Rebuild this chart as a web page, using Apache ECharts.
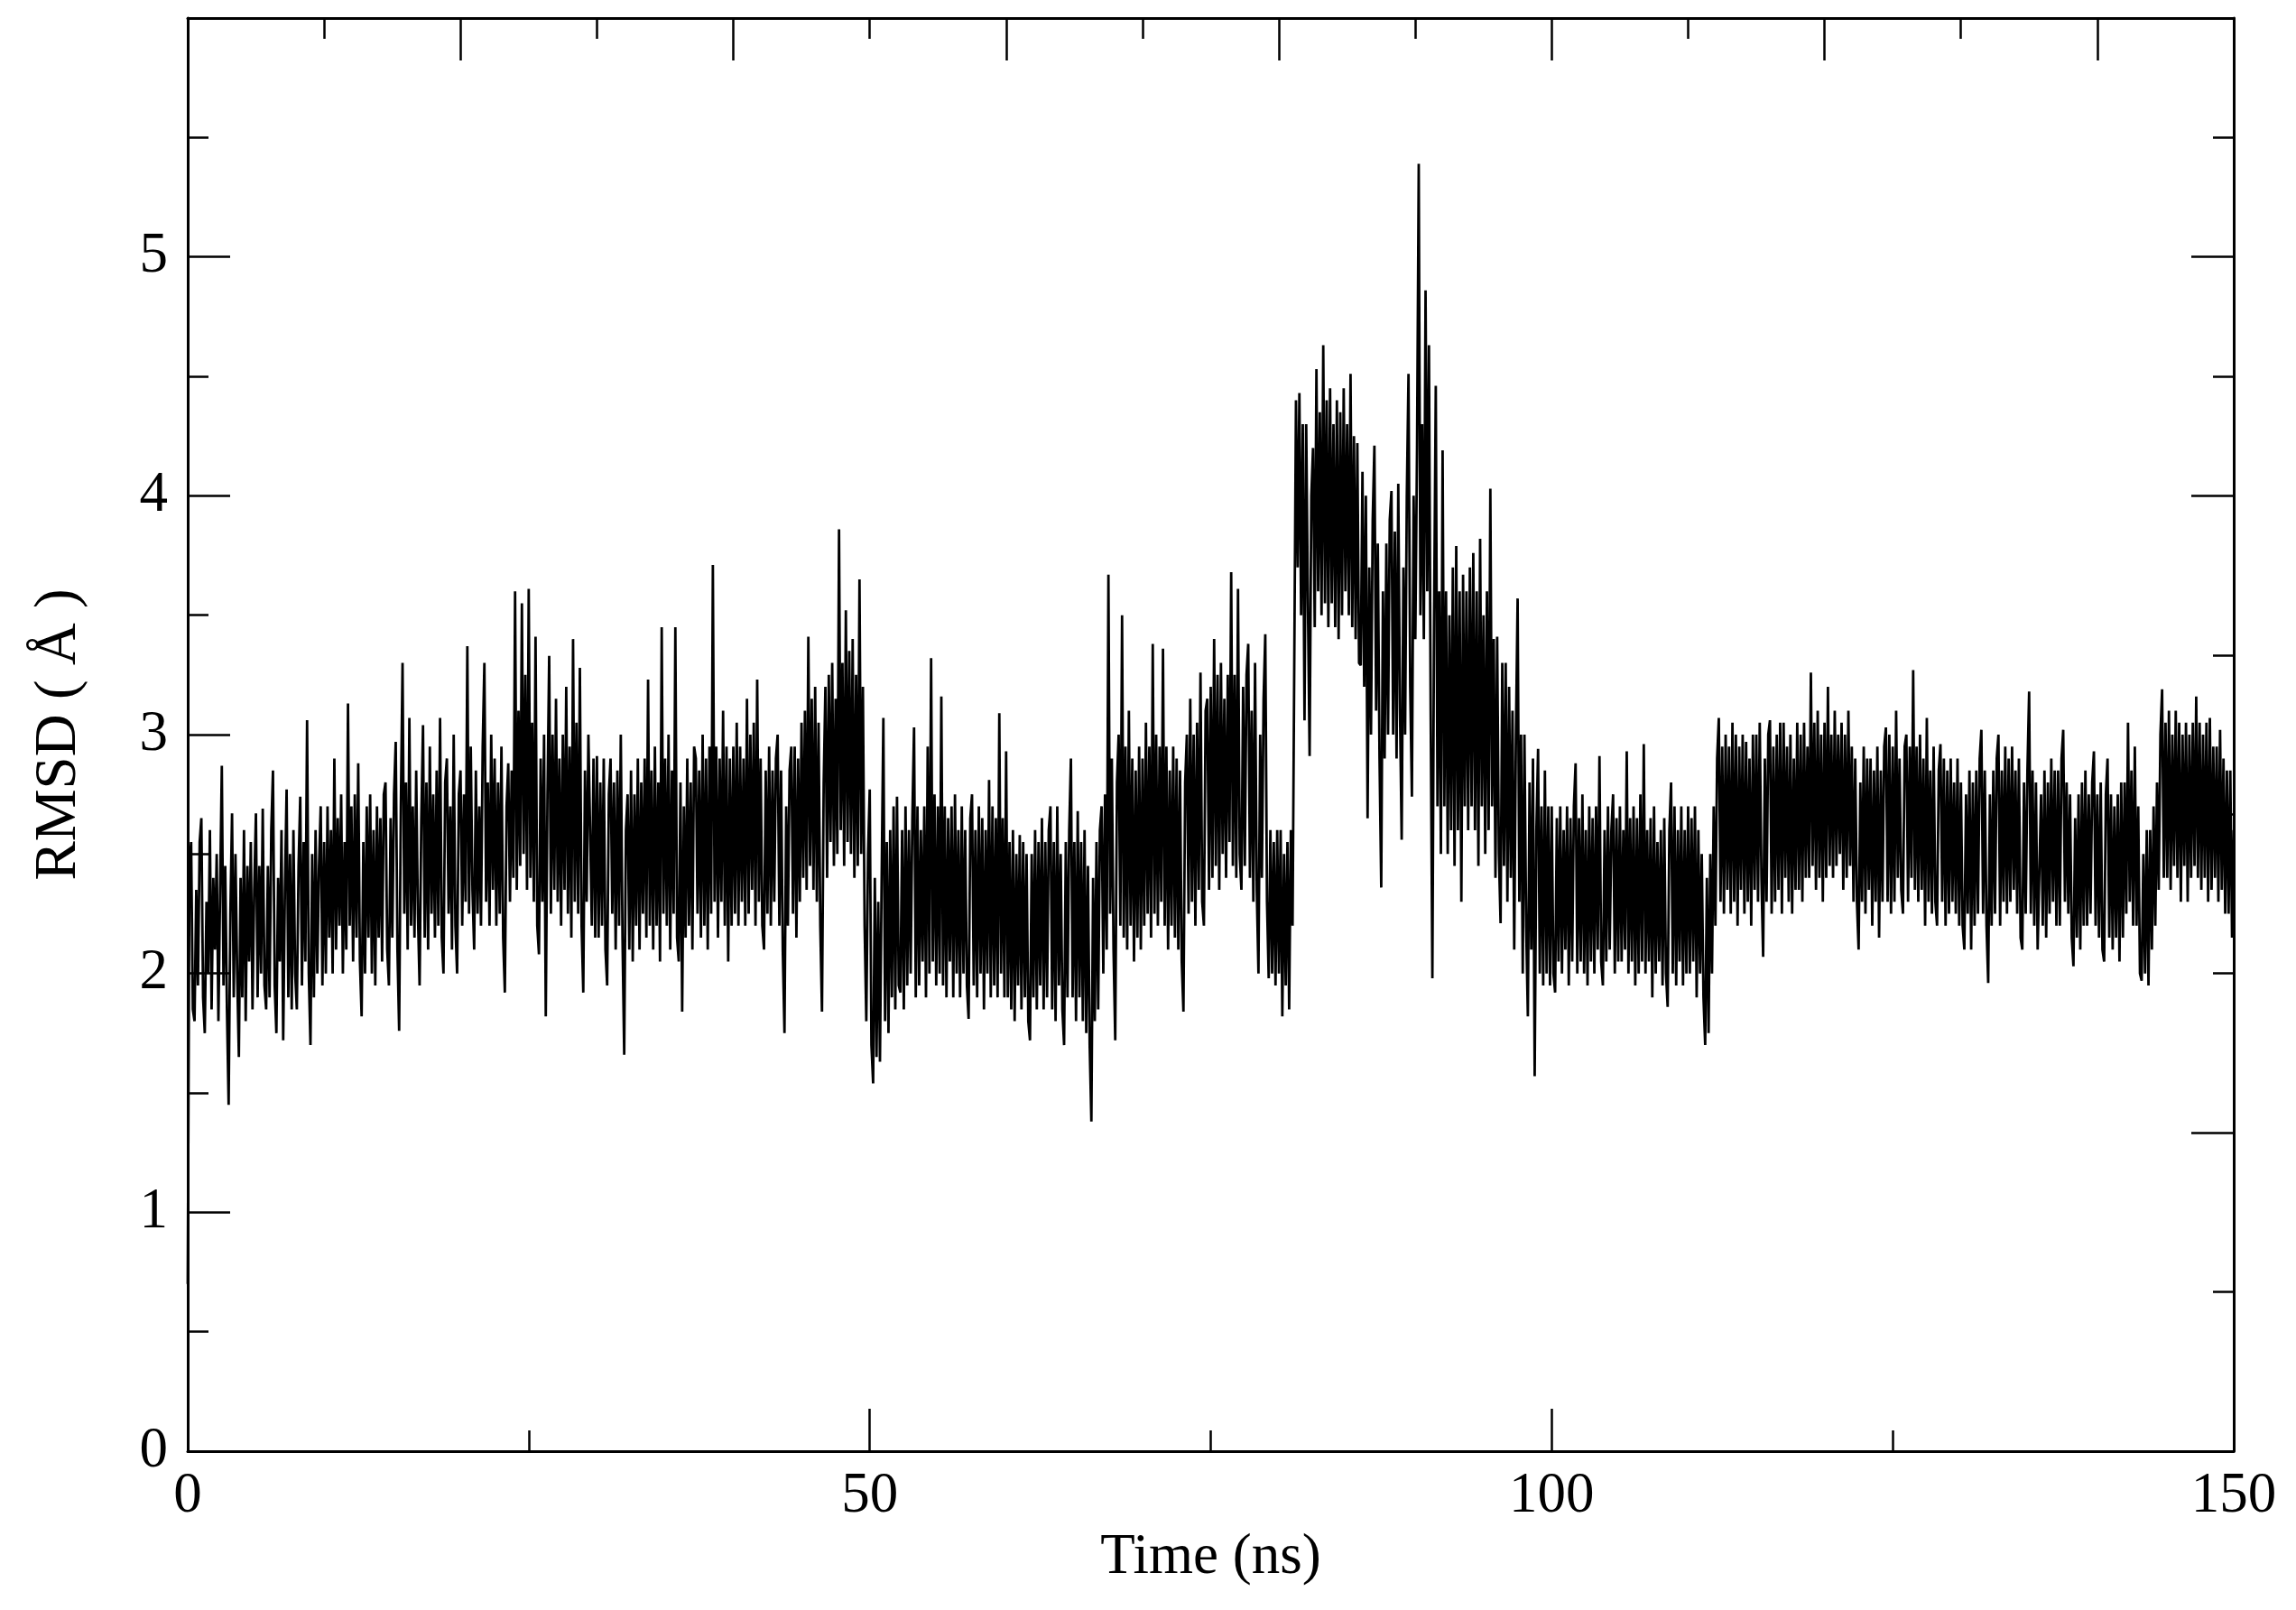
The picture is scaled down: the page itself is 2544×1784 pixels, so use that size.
<!DOCTYPE html>
<html><head><meta charset="utf-8">
<script src="https://cdn.jsdelivr.net/npm/echarts@6/dist/echarts.min.js"></script>
<style>html,body{margin:0;padding:0;background:#fff}#c{width:2544px;height:1784px}</style>
</head><body><div id="c"></div>
<script>
// sampling step of the trajectory (ns)
const timeStepNs = 0.125;
// RMSD values (Å), 0.125 ns apart
const rmsd_0_25 = [
0.70,2.45,2.55,1.85,1.80,2.35,1.95,2.55,2.65,1.90,1.75,2.30,2.00,2.60,1.85,2.40,2.10,2.50,1.80,2.35,
2.87,1.95,2.45,1.85,1.45,2.25,2.67,1.90,2.50,2.00,1.65,2.40,1.90,2.60,1.80,2.45,2.05,2.55,1.85,2.35,
2.67,1.90,2.45,2.00,2.69,1.95,1.85,2.45,1.90,2.60,2.85,1.95,1.75,2.40,2.05,2.60,1.72,2.35,2.77,1.90,
2.50,1.85,2.60,2.00,1.85,2.45,2.74,1.95,2.55,2.05,3.06,2.00,1.70,2.50,1.90,2.60,2.00,2.45,2.70,1.95,
2.55,2.00,2.70,2.15,2.60,2.00,2.90,2.10,2.65,2.20,2.75,2.00,2.55,2.10,3.13,2.20,2.70,2.05,2.75,2.15,
2.88,2.05,1.82,2.55,2.00,2.70,2.15,2.75,2.00,2.60,1.95,2.70,2.15,2.65,2.05,2.75,2.80,2.10,1.95,2.65,
2.15,2.75,2.97,2.10,1.76,2.70,3.30,2.25,2.80,2.10,3.07,2.20,2.70,2.15,2.85,2.25,1.95,2.65,3.04,2.15,
2.80,2.10,2.95,2.25,2.75,2.15,2.85,2.20,3.07,2.15,2.00,2.80,2.90,2.25,2.70,2.10,3.00,2.20,2.00,2.75,
2.85,2.20,2.75,2.30,3.37,2.25,2.95,2.35,2.10,2.85,2.25,2.70,2.20,2.95,3.30,2.30,2.80,2.20,3.00,2.35,
2.90,2.20,2.80,2.25,2.95,2.15,1.92,2.70,2.88,2.30,2.85,2.40,3.60,2.35,3.10,2.45,3.55,2.50,3.25,2.35];
const rmsd_25_50 = [
3.61,2.40,3.05,2.30,3.41,2.20,2.08,2.90,2.30,3.00,1.82,2.75,3.33,2.25,3.00,2.35,3.15,2.30,2.90,2.20,
3.00,2.35,3.20,2.25,2.95,2.15,3.40,2.30,3.05,2.25,3.28,2.20,1.92,2.85,2.30,3.00,3.00,2.20,2.90,2.15,
2.91,2.15,2.80,2.20,2.90,2.10,1.95,2.75,2.90,2.25,2.80,2.10,2.85,2.20,3.00,2.15,1.66,2.60,2.75,2.10,
2.85,2.05,2.75,2.20,2.90,2.10,2.80,2.25,2.90,2.15,3.23,2.20,2.85,2.10,2.95,2.20,2.80,2.05,3.45,2.25,
2.90,2.20,3.00,2.10,2.85,2.25,3.45,2.15,2.05,2.80,1.84,2.70,2.15,2.90,2.20,2.80,2.10,2.95,2.90,2.25,
2.85,2.15,3.00,2.20,2.90,2.10,2.95,2.25,3.71,2.30,2.95,2.15,2.90,2.30,3.10,2.20,2.95,2.05,2.90,2.20,
2.95,2.25,3.05,2.20,2.95,2.30,2.90,2.20,3.15,2.25,3.00,2.35,3.05,2.20,3.23,2.30,2.90,2.20,2.10,2.85,
2.25,2.95,2.20,2.85,2.30,2.90,3.00,2.20,2.85,2.10,1.75,2.70,2.20,2.85,2.95,2.25,2.95,2.15,2.90,2.30,
3.05,2.40,3.10,2.35,3.41,2.45,3.15,2.35,3.20,2.30,3.05,2.20,1.84,2.80,3.20,2.40,3.25,2.55,3.30,2.45,
3.15,2.50,3.86,2.60,3.30,2.45,3.52,2.55,3.35,2.50,3.40,2.40,3.25,2.45,3.65,2.50,3.20,2.20,1.80,2.50];
const rmsd_50_75 = [
2.77,1.70,1.54,2.40,1.65,2.30,1.63,2.40,3.07,1.80,2.55,1.75,2.60,1.90,2.70,1.85,2.74,1.95,1.92,2.60,
1.85,2.70,1.95,2.60,2.00,2.65,3.03,1.90,2.70,1.95,2.60,2.05,2.70,1.90,2.95,2.00,3.32,2.05,2.75,1.95,
2.70,2.00,3.16,1.95,2.70,1.90,2.65,2.05,2.70,1.90,2.75,2.00,2.60,1.90,2.70,2.00,2.60,1.95,1.81,2.65,
2.75,1.95,2.60,1.90,2.70,2.00,2.65,1.85,2.60,2.00,2.81,1.90,2.70,1.95,2.65,1.90,3.09,2.00,2.65,1.90,
2.93,1.90,2.55,1.85,2.60,1.80,2.50,1.95,2.58,1.85,2.55,1.90,2.50,1.80,1.72,2.50,1.90,2.60,1.85,2.55,
1.95,2.65,1.85,2.55,1.90,2.60,2.70,1.85,2.55,1.80,2.70,1.95,2.50,1.85,1.70,2.55,1.90,2.60,2.90,1.90,
2.55,1.80,2.68,1.90,2.55,1.80,2.60,1.75,2.45,1.70,1.38,2.40,1.80,2.55,1.85,2.60,2.70,2.00,2.75,2.10,
3.67,2.25,2.90,2.10,1.72,2.80,3.00,2.20,3.50,2.15,2.95,2.10,3.10,2.20,2.90,2.05,2.85,2.15,2.95,2.10,
2.90,2.20,3.05,2.25,2.95,2.15,3.38,2.25,3.00,2.20,2.95,2.30,3.36,2.20,2.95,2.10,2.85,2.20,2.95,2.15,
2.90,2.10,2.85,2.05,1.84,2.80,3.00,2.25,3.15,2.30,3.00,2.20,3.05,2.35,3.26,2.30,2.20,3.10,3.15,2.35];
const rmsd_75_100 = [
3.20,2.40,3.40,2.45,3.25,2.35,3.30,2.50,3.15,2.40,3.25,2.55,3.68,2.45,3.25,2.40,3.61,2.50,2.35,3.20,
2.45,3.25,3.38,2.40,3.10,2.30,3.30,2.35,2.00,3.00,2.40,3.15,3.42,2.30,1.98,2.60,2.00,2.55,1.95,2.60,
2.00,2.60,1.82,2.50,1.95,2.55,1.85,2.60,2.20,3.30,4.40,3.70,4.43,3.50,4.30,3.06,4.30,3.55,2.91,4.00,
4.20,3.45,4.53,3.60,4.35,3.50,4.63,3.55,4.40,3.45,4.45,3.55,4.30,3.45,4.40,3.40,4.35,3.50,4.45,3.60,
4.30,3.50,4.51,3.45,4.25,3.40,4.22,3.30,3.29,4.10,3.20,4.00,2.65,3.70,3.00,3.90,4.21,3.10,3.80,2.90,
2.36,3.60,2.90,3.80,3.00,3.90,4.02,3.00,3.85,2.90,4.05,3.10,2.56,3.70,3.00,4.00,4.51,3.20,2.74,4.00,
3.40,4.20,5.39,3.50,4.30,3.40,4.86,3.60,4.63,3.10,1.98,3.50,4.46,2.70,3.60,2.50,4.19,2.70,3.60,2.50,
3.50,2.60,3.70,2.45,3.79,2.60,3.60,2.30,3.67,2.70,3.60,2.60,3.70,2.70,3.76,2.60,3.60,2.45,3.82,2.70,
3.50,2.50,3.60,2.60,4.03,2.70,3.40,2.40,3.41,2.50,2.21,3.30,2.45,3.30,2.30,3.20,2.40,3.10,2.10,3.00,
3.57,2.30,3.00,2.00,3.00,2.20,1.82,2.80,2.10,2.90,1.57,2.60,2.94,2.00,2.70,1.95,2.85,2.00,2.70,1.95];
const rmsd_100_125 = [
2.70,2.00,1.92,2.65,2.05,2.70,2.00,2.60,2.10,2.70,1.95,2.65,2.05,2.70,2.88,2.00,2.65,2.05,2.75,2.00,
2.60,1.95,2.70,2.05,2.65,2.00,2.70,2.10,2.91,2.05,1.95,2.60,2.05,2.70,2.10,2.60,2.75,2.00,2.65,2.05,
2.70,2.05,2.60,2.10,2.93,2.00,2.65,2.05,2.70,1.95,2.65,2.00,2.75,2.05,2.96,2.00,2.60,2.05,2.65,1.90,
2.70,2.00,2.55,2.05,2.60,1.95,2.65,2.00,1.86,2.60,2.80,2.00,2.70,1.95,2.60,2.05,2.70,1.95,2.60,2.00,
2.70,2.00,2.65,2.05,2.70,1.90,2.60,2.00,2.50,1.90,1.70,2.40,1.75,2.50,2.00,2.70,2.20,2.90,3.07,2.30,
2.95,2.25,3.00,2.35,2.95,2.25,3.05,2.30,3.00,2.20,2.95,2.35,3.00,2.25,2.97,2.30,2.90,2.20,3.00,2.35,
3.00,2.30,3.05,2.40,2.07,2.90,2.30,3.00,3.06,2.25,2.95,2.30,3.00,2.35,3.05,2.25,3.05,2.40,2.95,2.30,
3.00,2.25,2.90,2.35,3.05,2.35,3.00,2.30,3.05,2.40,2.95,2.40,3.26,2.45,3.05,2.35,3.10,2.40,3.00,2.30,
3.05,2.40,3.20,2.45,3.00,2.40,3.10,2.45,3.00,2.50,3.05,2.35,3.00,2.40,3.10,2.45,2.95,2.30,2.90,2.30,
2.10,2.80,2.30,2.95,2.25,2.90,2.35,2.90,2.20,2.85,2.30,2.95,2.15,2.85,2.30,2.95,3.03,2.30,3.00,2.25];
const rmsd_125_150 = [
2.95,2.30,3.10,2.40,2.90,2.35,2.25,2.95,3.00,2.30,2.95,2.40,3.27,2.35,2.95,2.30,3.00,2.35,2.90,2.20,
3.07,2.30,2.85,2.25,2.95,2.30,2.20,2.85,2.96,2.30,2.90,2.20,2.85,2.25,2.90,2.30,2.80,2.25,2.90,2.20,
2.80,2.20,2.10,2.75,2.25,2.85,2.10,2.80,2.20,2.85,2.25,2.90,3.02,2.25,2.85,2.20,1.96,2.75,2.20,2.85,
2.25,2.90,3.00,2.20,2.85,2.30,2.95,2.25,2.90,2.30,2.95,2.35,2.85,2.25,2.90,2.15,2.10,2.80,2.25,2.85,
3.18,2.25,2.85,2.20,2.80,2.10,2.10,2.75,2.20,2.85,2.15,2.80,2.25,2.90,2.30,2.85,2.20,2.85,2.20,2.90,
3.02,2.30,2.80,2.25,2.75,2.15,2.03,2.65,2.15,2.75,2.10,2.80,2.20,2.85,2.20,2.75,2.25,2.80,2.93,2.20,
2.75,2.15,2.80,2.10,2.05,2.75,2.90,2.15,2.75,2.10,2.70,2.15,2.75,2.05,2.80,2.15,2.80,2.25,3.05,2.30,
2.85,2.20,2.95,2.20,2.70,2.00,1.97,2.50,2.00,2.60,1.95,2.60,2.10,2.70,2.20,2.80,2.35,3.00,3.19,2.40,
3.05,2.40,3.10,2.35,3.00,2.45,3.10,2.40,3.05,2.30,3.00,2.45,3.05,2.30,3.00,2.40,3.05,2.45,3.16,2.40,
3.05,2.35,3.00,2.40,3.05,2.30,3.07,2.35,2.95,2.40,2.95,2.30,3.02,2.35,2.90,2.25,2.85,2.25,2.85,2.15,2.60];

// tick positions
const topMajorTicks = [20,40,60,80,100,120,140];
const topMinorTicks = [10,30,50,70,90,110,130];
const rightMajorTicks = [4/3,4,5];
const rightMinorTicks = [2/3,2,8/3,10/3,4.5,5.5];

const xAxisTitle = 'Time (ns)';
const yAxisTitle = 'RMSD ( Å )';

const rmsd = [].concat(rmsd_0_25, rmsd_25_50, rmsd_50_75, rmsd_75_100, rmsd_100_125, rmsd_125_150);
const seriesData = rmsd.map((v, i) => [i * timeStepNs, v]);

const FONT = '"Liberation Serif","DejaVu Serif",serif';
const lineStyle = {color:'#000', width:3};
const majorTick = {show:true, inside:true, length:47, lineStyle:{color:'#000', width:2.5}};
const minorTick = {show:true, splitNumber:2, length:23, lineStyle:{color:'#000', width:2.5}};
const noZeroLine = {show:true, onZero:false, lineStyle};

const chart = echarts.init(document.getElementById('c'), null, {renderer:'canvas'});
chart.setOption({
  animation:false,
  backgroundColor:'#fff',
  grid:{left:208, right:69, top:20, bottom:176, containLabel:false},
  xAxis:[
    {type:'value', position:'bottom', min:0, max:150, interval:50,
     axisLine:noZeroLine, axisTick:majorTick, minorTick:minorTick,
     splitLine:{show:false},
     axisLabel:{show:true, color:'#000', fontFamily:FONT, fontSize:63, margin:19},
     name:xAxisTitle, nameLocation:'middle', nameGap:87,
     nameTextStyle:{color:'#000', fontFamily:FONT, fontSize:63}},
    {type:'value', position:'top', min:0, max:150,
     axisLine:noZeroLine, axisTick:Object.assign({}, majorTick, {customValues:topMajorTicks}),
     splitLine:{show:false}, axisLabel:{show:false}},
    {type:'value', position:'top', min:0, max:150,
     axisLine:{show:false, onZero:false}, axisTick:Object.assign({}, majorTick, {length:23, customValues:topMinorTicks}),
     splitLine:{show:false}, axisLabel:{show:false}}
  ],
  yAxis:[
    {type:'value', position:'left', min:0, max:6, interval:1,
     axisLine:noZeroLine, axisTick:majorTick, minorTick:minorTick,
     splitLine:{show:false},
     axisLabel:{show:true, showMaxLabel:false, color:'#000', fontFamily:FONT, fontSize:63, margin:22},
     name:yAxisTitle, nameLocation:'middle', nameRotate:90, nameGap:110,
     nameTextStyle:{color:'#000', fontFamily:FONT, fontSize:65}},
    {type:'value', position:'right', min:0, max:6,
     axisLine:noZeroLine, axisTick:Object.assign({}, majorTick, {customValues:rightMajorTicks}),
     splitLine:{show:false}, axisLabel:{show:false}},
    {type:'value', position:'right', min:0, max:6,
     axisLine:{show:false, onZero:false}, axisTick:Object.assign({}, majorTick, {length:23, customValues:rightMinorTicks}),
     splitLine:{show:false}, axisLabel:{show:false}}
  ],
  series:[{
    type:'line', xAxisIndex:0, yAxisIndex:0, data:seriesData,
    showSymbol:false, symbol:'none', smooth:false,
    lineStyle:{color:'#000', width:2.8}, itemStyle:{color:'#000'}
  }]
});
</script></body></html>
